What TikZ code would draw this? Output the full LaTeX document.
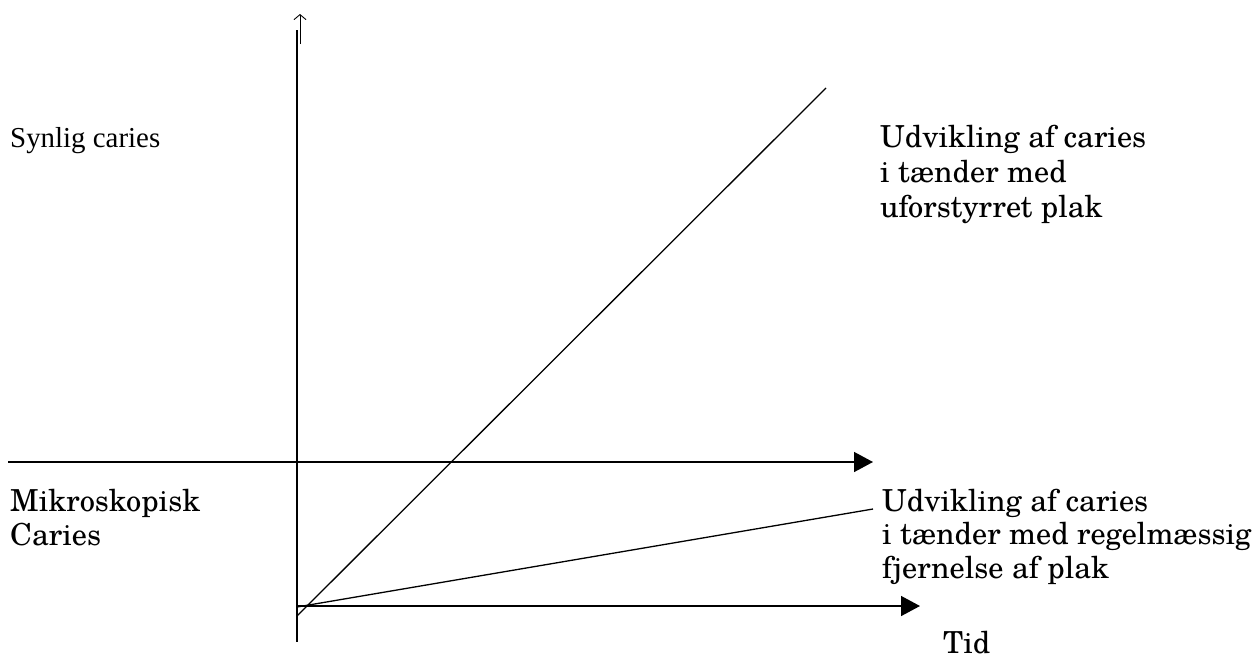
\documentclass[tikz,border=0pt]{standalone}
\usepackage{fontspec}
\setmainfont{texgyreschola-regular.otf}
\newfontfamily\timesfont{Liberation Serif}
\usetikzlibrary{arrows.meta}
\begin{document}
\begin{tikzpicture}[x=1pt,y=-1pt,
  axis/.style={line width=1.5pt},
  axisarrow/.style={axis,-{Triangle[length=19pt,width=20pt]}},
  trend/.style={line width=1.3pt},
  lbl/.style={inner sep=0pt, anchor=base west, align=left, font=\fontsize{30.3}{33.3}\selectfont},
  lblwide/.style={lbl, font=\fontsize{30.3}{34.7}\selectfont},
  tlbl/.style={inner sep=0pt, anchor=base west, font=\timesfont\fontsize{28.9}{33}\selectfont}
  ]
\useasboundingbox (0,0) rectangle (1258,657);
% axes
\coordinate (ytop) at (297,30);
\coordinate (ybot) at (297,642);
\coordinate (mleft) at (8,462);
\coordinate (mright) at (873,462);
\coordinate (bleft) at (297,606);
\coordinate (bright) at (920,606);
\coordinate (upbot) at (300,44);
\coordinate (uptop) at (300,14);
\draw[axis] (ytop) -- (ybot);
\draw[line width=0.9pt,-{Straight Barb[length=5pt,width=12pt]}] (upbot) -- (uptop);
\draw[axisarrow] (mleft) -- (mright);
\draw[axisarrow] (bleft) -- (bright);
% trend lines
\coordinate (s0) at (297,616);
\coordinate (s1) at (826,88);
\coordinate (f0) at (297,607);
\coordinate (f1) at (873,509);
\draw[trend] (s0) -- (s1);
\draw[trend] (f0) -- (f1);
% labels (base anchor = baseline of the last line)
\node[tlbl] (synlig) at (10,147) {Synlig caries};
\node[lbl] (mikro) at (10,545) {Mikroskopisk\\Caries};
\node[lblwide] (uforst) at (880,217) {Udvikling af caries\\i tænder med\\uforstyrret plak};
\node[lbl] (regel) at (882,578) {Udvikling af caries\\i tænder med regelmæssig\\fjernelse af plak};
\node[lbl] (tid) at (943,653) {Tid};
\end{tikzpicture}
\end{document}
